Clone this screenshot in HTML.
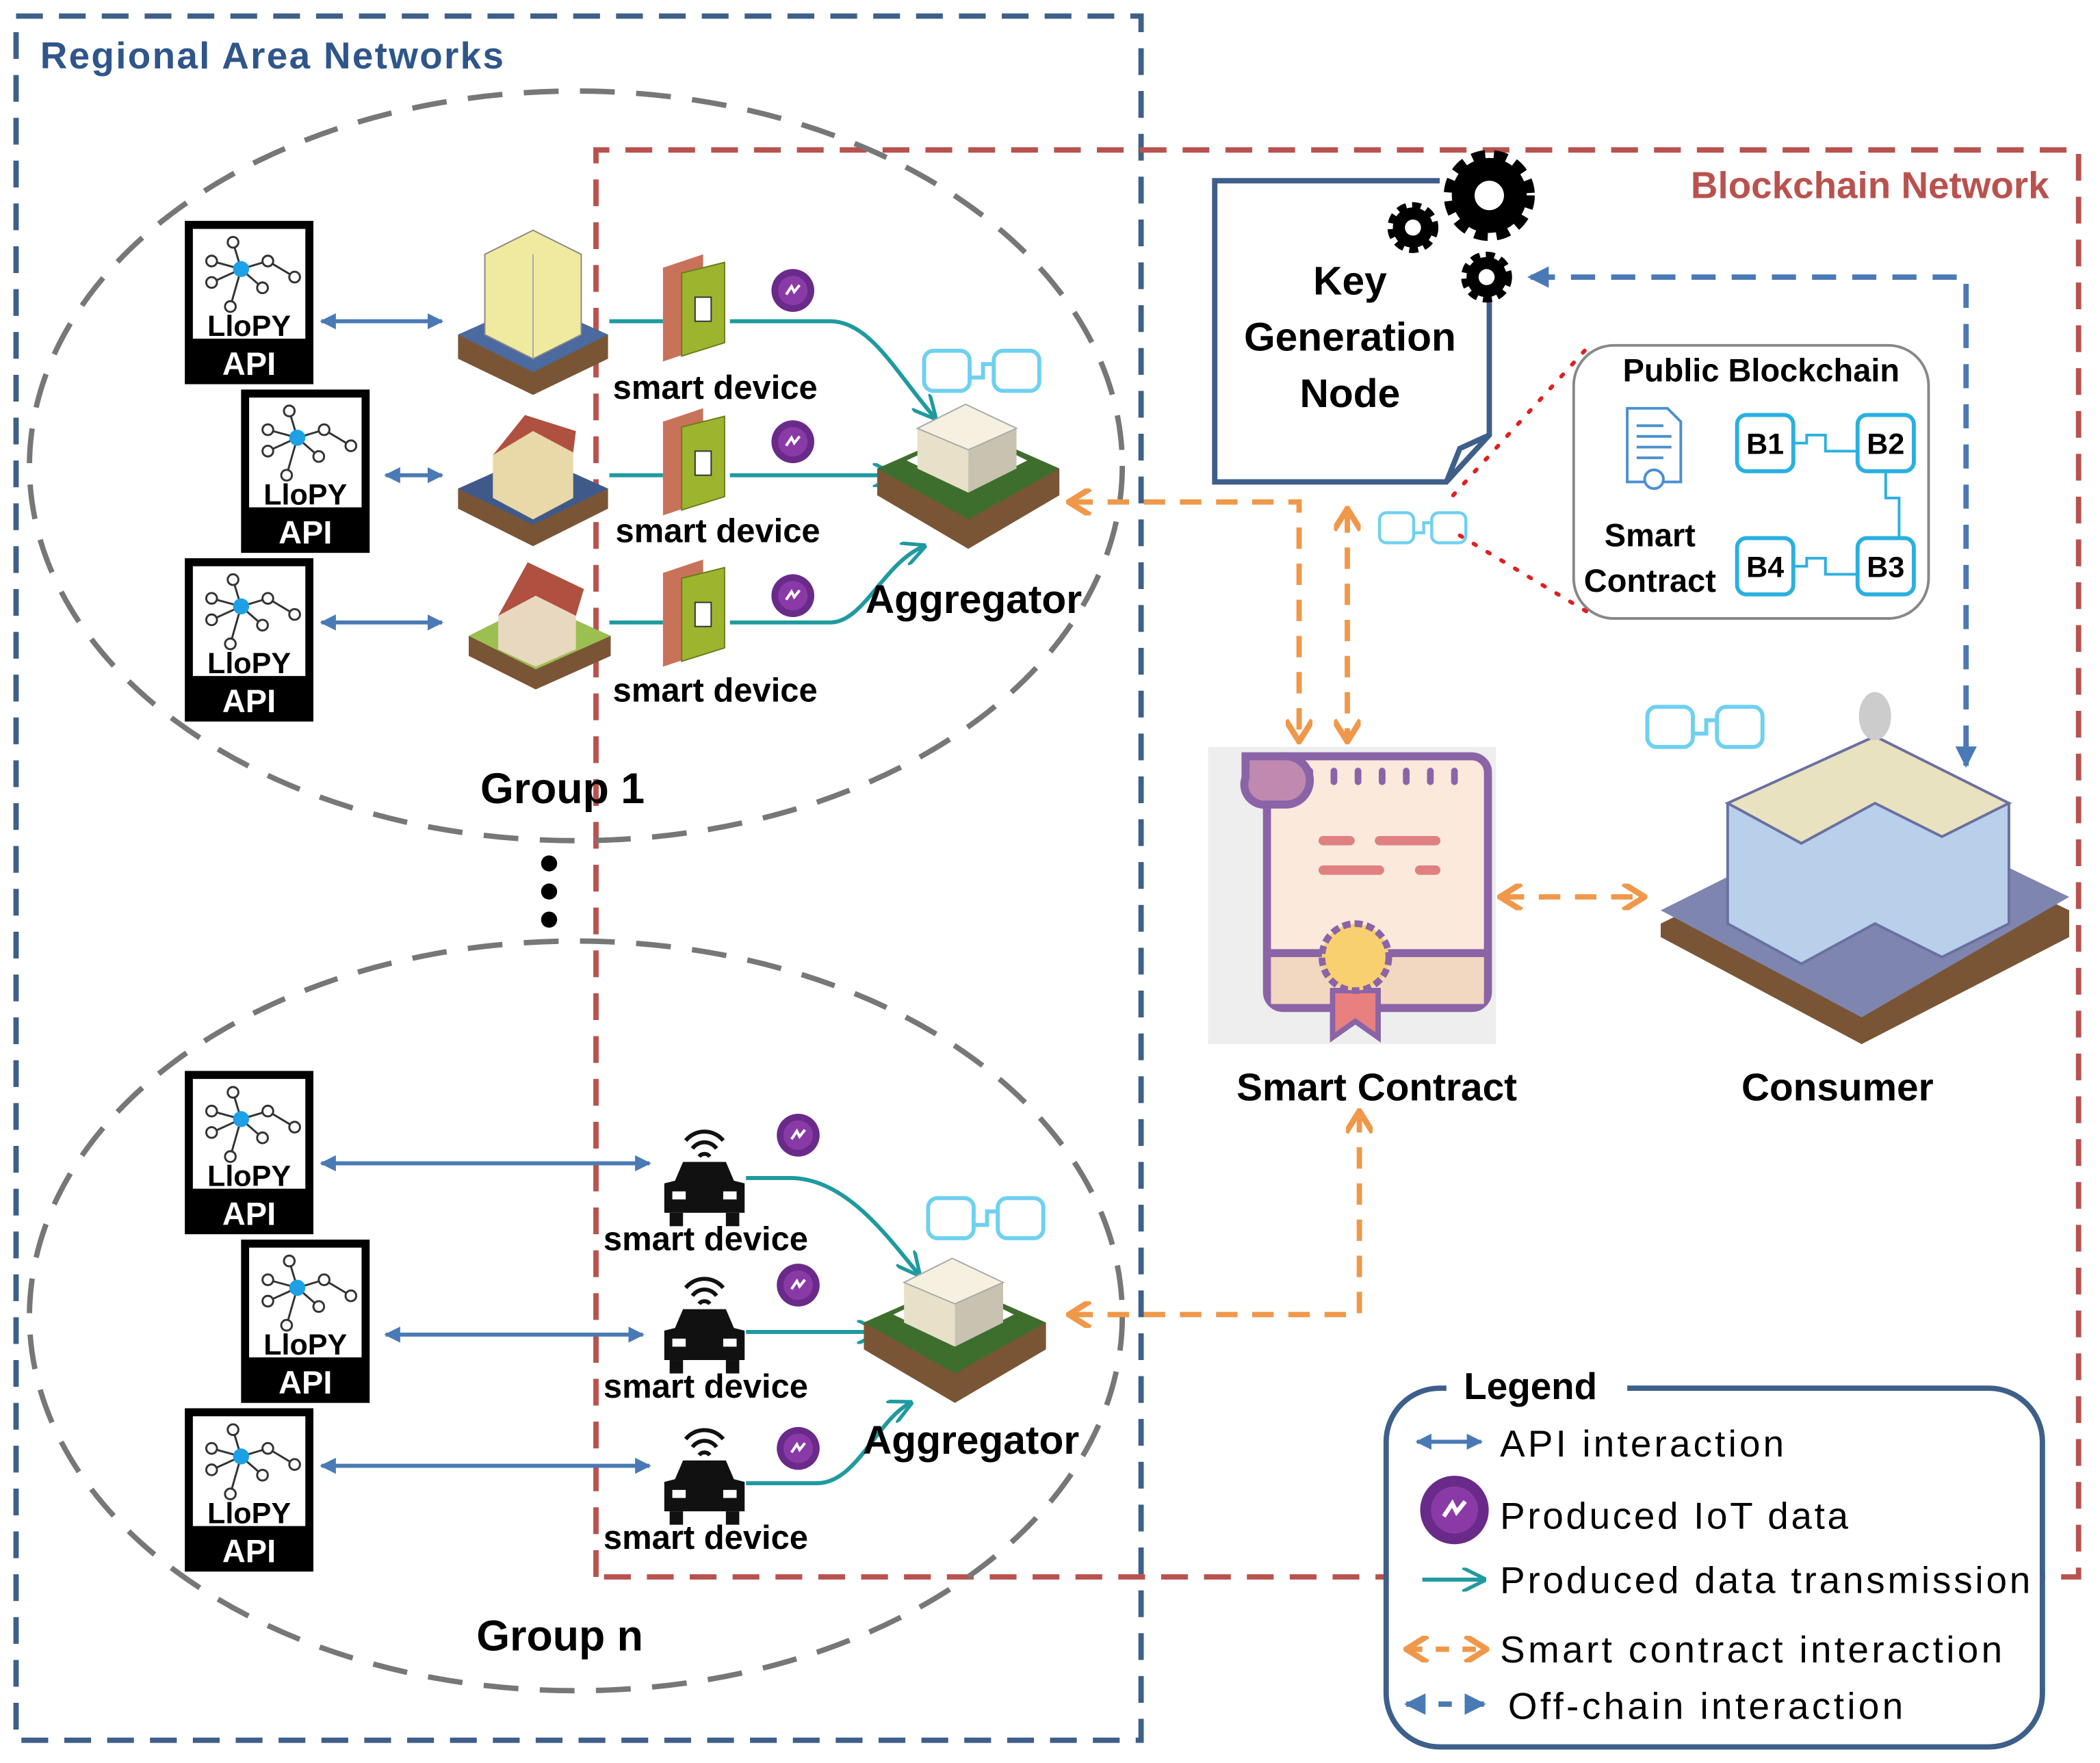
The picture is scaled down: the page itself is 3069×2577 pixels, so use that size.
<!DOCTYPE html>
<html><head><meta charset="utf-8"><style>
html,body{margin:0;padding:0;background:#fff;}
svg{display:block;}
text{font-family:"Liberation Sans",sans-serif;}
</style></head><body>
<svg width="3069" height="2577" viewBox="0 0 1568 1317" preserveAspectRatio="none" xmlns="http://www.w3.org/2000/svg">
<defs>
<marker id="ab" viewBox="0 0 10 10" refX="9" refY="5" markerWidth="4" markerHeight="4" orient="auto-start-reverse"><path d="M0,0 L10,5 L0,10 z" fill="#4a7ab5"/></marker>
<marker id="at" viewBox="0 0 10 10" refX="9" refY="5" markerWidth="6" markerHeight="6" orient="auto"><path d="M0,0 L10,5 L0,10" fill="none" stroke="#1f9a9f" stroke-width="1.5"/></marker>
<marker id="ao" viewBox="0 0 10 10" refX="8" refY="5" markerWidth="5" markerHeight="5" orient="auto-start-reverse"><path d="M1,0 L9,5 L1,10" fill="none" stroke="#f0984a" stroke-width="2.2"/></marker>
<marker id="abd" viewBox="0 0 10 10" refX="9" refY="5" markerWidth="4" markerHeight="4" orient="auto"><path d="M0,0 L10,5 L0,10 z" fill="#4a7ab5"/></marker>
<g id="api">
<rect x="0" y="0" width="96" height="122" fill="#000"/>
<rect x="6" y="6" width="84" height="82" fill="#fff"/>
<g stroke="#333" stroke-width="1.5" fill="#fff">
<line x1="42" y1="36" x2="20" y2="30"/><line x1="42" y1="36" x2="36" y2="16"/><line x1="42" y1="36" x2="62" y2="30"/><line x1="42" y1="36" x2="20" y2="46"/><line x1="42" y1="36" x2="58" y2="50"/><line x1="42" y1="36" x2="34" y2="64"/><line x1="62" y1="30" x2="82" y2="42"/>
<circle cx="20" cy="30" r="4"/><circle cx="36" cy="16" r="4"/><circle cx="62" cy="30" r="4"/><circle cx="82" cy="42" r="4"/><circle cx="20" cy="46" r="4"/><circle cx="58" cy="50" r="4"/><circle cx="34" cy="64" r="4"/>
</g>
<circle cx="42" cy="36" r="6" fill="#1ea0e6"/>
<text x="48" y="86" font-size="22" font-weight="bold" text-anchor="middle" fill="#000">LloPY</text>
<text x="48" y="115" font-size="24" font-weight="bold" text-anchor="middle" fill="#fff">API</text>
</g>
<g id="chain" fill="none" stroke="#6fd0f0" stroke-width="3">
<rect x="0" y="0" width="34" height="30" rx="7"/><rect x="52" y="0" width="34" height="30" rx="7"/><path d="M34,20 h10 v-10 h8"/>
</g>
<g id="meter">
<path d="M0,10 L30,0 L30,70 L0,80 z" fill="#c9725a"/>
<path d="M14,14 L46,6 L46,66 L14,76 z" fill="#9db52e" stroke="#6a7d1a"/>
<rect x="24" y="32" width="12" height="18" fill="#fff" stroke="#333"/>
</g>
<g id="iot"><circle r="16" fill="#6a2a8a"/><circle r="11" fill="#8a3aa6"/><path d="M-5,3 l4,-6 l2,4 l4,-5" stroke="#fff" stroke-width="2" fill="none"/></g>
<g id="car">
<path d="M-14,-20 a18,18 0 0 1 28,0 M-9,-14 a11,11 0 0 1 18,0 M-4,-8 a5,5 0 0 1 8,0" stroke="#111" stroke-width="3" fill="none"/>
<path d="M-22,10 L-16,-4 L16,-4 L22,10 L30,12 L30,34 L-30,34 L-30,12 z" fill="#111"/>
<rect x="-24" y="18" width="10" height="6" fill="#fff"/><rect x="14" y="18" width="10" height="6" fill="#fff"/>
<rect x="-26" y="34" width="10" height="10" fill="#111"/><rect x="16" y="34" width="10" height="10" fill="#111"/>
</g>
<g id="agg">
<path d="M0,50 L68,20 L136,50 L136,70 L68,110 L0,70 z" fill="#7a5535"/>
<path d="M0,50 L68,20 L136,50 L68,88 z" fill="#3e6e2e"/>
<path d="M22,44 L68,22 L112,44 L68,66 z" fill="#fff"/>
<path d="M30,20 L30,50 L68,68 L68,36 z" fill="#e8e0c8"/>
<path d="M68,36 L68,68 L104,50 L104,20 z" fill="#c8c2b0"/>
<path d="M30,20 L66,2 L104,20 L68,36 z" fill="#f5f0e0" stroke="#aaa"/>
</g>
</defs>

<rect x="12" y="12" width="840" height="1288" fill="none" stroke="#3e5f8a" stroke-width="4" stroke-dasharray="20 12"/>
<text x="30" y="51" font-size="28" fill="#2f568a" font-weight="bold" textLength="346">Regional Area Networks</text>

<path d="M445,1178 L445,112 L1552,112 L1552,1178 L445,1178" fill="none" stroke="#b9524e" stroke-width="4" stroke-dasharray="20 12"/>
<text x="1530" y="148" font-size="28" fill="#b9524e" font-weight="bold" text-anchor="end">Blockchain Network</text>

<ellipse cx="430" cy="348" rx="408" ry="280" fill="none" stroke="#777" stroke-width="4" stroke-dasharray="26 16"/>
<ellipse cx="430" cy="983" rx="408" ry="280" fill="none" stroke="#777" stroke-width="4" stroke-dasharray="26 16"/>
<text x="420" y="600" font-size="32" font-weight="bold" text-anchor="middle">Group 1</text>
<text x="418" y="1233" font-size="32" font-weight="bold" text-anchor="middle">Group n</text>
<circle cx="410" cy="645" r="6"/><circle cx="410" cy="666" r="6"/><circle cx="410" cy="687" r="6"/>

<use href="#api" x="138" y="165"/><use href="#api" x="180" y="291"/><use href="#api" x="138" y="417"/>
<use href="#api" x="138" y="800"/><use href="#api" x="180" y="926"/><use href="#api" x="138" y="1052"/>

<g stroke="#4a7ab5" stroke-width="3" marker-start="url(#ab)" marker-end="url(#ab)">
<line x1="240" y1="240" x2="330" y2="240"/><line x1="288" y1="355" x2="330" y2="355"/><line x1="240" y1="465" x2="330" y2="465"/>
<line x1="240" y1="869" x2="485" y2="869"/><line x1="288" y1="997" x2="480" y2="997"/><line x1="240" y1="1095" x2="485" y2="1095"/>
</g>

<g>
<path d="M342,250 L398,225 L454,250 L454,268 L398,295 L342,268 z" fill="#7a5535"/>
<path d="M342,250 L398,225 L454,250 L398,278 z" fill="#4a6aa0"/>
<path d="M362,190 L398,172 L434,190 L434,250 L398,268 L362,250 z" fill="#f0eaa0" stroke="#888"/>
<path d="M398,190 L398,268" stroke="#aaa"/>
<path d="M342,365 L398,340 L454,365 L454,380 L398,408 L342,380 z" fill="#7a5535"/>
<path d="M342,365 L398,340 L454,365 L398,392 z" fill="#3f5a8a"/>
<path d="M368,340 L398,322 L428,338 L428,372 L398,388 L368,372 z" fill="#e9d8a8"/>
<path d="M368,340 L392,310 L430,322 L428,338 L398,322 z" fill="#b05040"/>
<path d="M350,475 L400,450 L456,475 L456,490 L400,515 L350,490 z" fill="#7a5535"/>
<path d="M350,475 L400,450 L456,475 L400,500 z" fill="#9cc050"/>
<path d="M372,460 L400,445 L430,460 L430,485 L400,498 L372,485 z" fill="#e8d8c0"/>
<path d="M372,460 L394,420 L436,440 L430,460 L400,445 z" fill="#b05040"/>
</g>
<use href="#meter" x="495" y="190"/><use href="#meter" x="495" y="305"/><use href="#meter" x="495" y="418"/>
<use href="#iot" x="592" y="217"/><use href="#iot" x="592" y="330"/><use href="#iot" x="592" y="445"/>
<use href="#iot" x="596" y="848"/><use href="#iot" x="596" y="960"/><use href="#iot" x="596" y="1082"/>
<g font-size="25" font-weight="bold" text-anchor="middle">
<text x="534" y="298">smart device</text><text x="536" y="405">smart device</text><text x="534" y="524">smart device</text>
<text x="527" y="934">smart device</text><text x="527" y="1044">smart device</text><text x="527" y="1157">smart device</text>
</g>

<g stroke="#1f9a9f" stroke-width="3" fill="none" marker-end="url(#at)">
<path d="M455,240 L495,240 M545,240 L620,240 C650,240 670,280 698,312"/>
<path d="M455,355 L495,355 M545,355 L668,355"/>
<path d="M455,465 L495,465 M545,465 L620,465 C645,465 660,420 690,408"/>
<path d="M557,880 L590,880 C630,880 660,920 686,952"/>
<path d="M557,995 L656,995"/>
<path d="M557,1108 L610,1108 C640,1108 655,1060 680,1048"/>
</g>

<use href="#agg" x="655" y="300"/><use href="#agg" x="645" y="938"/>
<use href="#chain" x="690" y="262"/><use href="#chain" x="693" y="895"/>
<text x="727" y="458" font-size="30" font-weight="bold" text-anchor="middle">Aggregator</text>
<text x="725" y="1086" font-size="30" font-weight="bold" text-anchor="middle">Aggregator</text>

<use href="#car" x="526" y="872"/><use href="#car" x="526" y="982"/><use href="#car" x="526" y="1095"/>

<!-- Key generation node -->
<path d="M907,135 L1112,135 L1112,325 L1080,360 L907,360 Z" fill="#fff"/>
<path d="M1075,135 L907,135 L907,360 L1080,360 L1112,325 L1112,220" fill="none" stroke="#3e5f8a" stroke-width="4"/>
<path d="M1080,360 L1090,335 L1112,325" fill="none" stroke="#3e5f8a" stroke-width="4"/>
<text x="1008" y="220" font-size="30" font-weight="bold" text-anchor="middle">Key</text>
<text x="1008" y="262" font-size="30" font-weight="bold" text-anchor="middle">Generation</text>
<text x="1008" y="304" font-size="30" font-weight="bold" text-anchor="middle">Node</text>
<g fill="#000">
<circle cx="1112" cy="146" r="28" stroke="#000" stroke-width="12" stroke-dasharray="9 6"/><circle cx="1112" cy="146" r="26"/><circle cx="1112" cy="146" r="11" fill="#fff"/>
<circle cx="1055" cy="170" r="15" stroke="#000" stroke-width="8" stroke-dasharray="6 4"/><circle cx="1055" cy="170" r="6" fill="#fff"/>
<circle cx="1110" cy="207" r="15" stroke="#000" stroke-width="8" stroke-dasharray="6 4"/><circle cx="1110" cy="207" r="6" fill="#fff"/>
</g>

<path d="M1468,560 L1468,207 L1142,207" fill="none" stroke="#4a7ab5" stroke-width="4" stroke-dasharray="18 12" marker-end="url(#abd)"/>
<path d="M1468,555 L1468,572" stroke="#4a7ab5" stroke-width="4" marker-end="url(#abd)"/>

<rect x="1175" y="258" width="265" height="204" rx="30" fill="#fff" stroke="#888" stroke-width="2"/>
<text x="1315" y="285" font-size="24" font-weight="bold" text-anchor="middle">Public Blockchain</text>
<text x="1232" y="408" font-size="24" font-weight="bold" text-anchor="middle">Smart</text>
<text x="1232" y="442" font-size="24" font-weight="bold" text-anchor="middle">Contract</text>
<path d="M1215,305 h30 l10,10 v45 h-40 z" fill="#fff" stroke="#4a90d0" stroke-width="2"/>
<path d="M1222,318 h20 M1222,326 h26 M1222,334 h26 M1222,342 h20" stroke="#4a90d0" stroke-width="2"/>
<circle cx="1235" cy="358" r="7" fill="#fff" stroke="#4a90d0" stroke-width="2"/>
<g fill="#fff" stroke="#2ab0e0" stroke-width="3">
<rect x="1297" y="310" width="42" height="42" rx="7"/><rect x="1387" y="310" width="42" height="42" rx="7"/>
<rect x="1297" y="402" width="42" height="42" rx="7"/><rect x="1387" y="402" width="42" height="42" rx="7"/>
<path d="M1339,331 h10 v-6 h14 v12 h24 M1339,423 h10 v-6 h14 v12 h24 M1408,352 v20 h10 v30" fill="none" stroke-width="2"/>
</g>
<g font-size="22" font-weight="bold" text-anchor="middle">
<text x="1318" y="339">B1</text><text x="1408" y="339">B2</text><text x="1318" y="431">B4</text><text x="1408" y="431">B3</text>
</g>
<path d="M1085,370 L1185,260 M1090,400 L1190,460" stroke="#e02020" stroke-width="3" stroke-dasharray="2 10" stroke-linecap="round"/>
<use href="#chain" x="1030" y="383" transform="translate(1030 383) scale(0.75) translate(-1030 -383)"/>

<g stroke="#f0984a" stroke-width="4" fill="none" stroke-dasharray="16 11">
<path d="M800,375 L970,375 L970,552" marker-start="url(#ao)" marker-end="url(#ao)"/>
<path d="M1006,382 L1006,552" marker-start="url(#ao)" marker-end="url(#ao)"/>
<path d="M1122,670 L1226,670" marker-start="url(#ao)" marker-end="url(#ao)"/>
<path d="M800,982 L1015,982 L1015,832" marker-start="url(#ao)" marker-end="url(#ao)"/>
</g>

<rect x="902" y="558" width="215" height="222" fill="#eee"/>
<rect x="946" y="565" width="165" height="188" rx="12" fill="#fbe9dc" stroke="#8a64a6" stroke-width="6"/>
<path d="M946,712 h165" stroke="#8a64a6" stroke-width="6"/>
<rect x="949" y="715" width="159" height="35" fill="#f2d8c0"/>
<path d="M930,565 h30 a18,18 0 0 1 0,36 h-14 a15,15 0 0 1 -16,-20 z" fill="#c08ab0" stroke="#8a64a6" stroke-width="6"/>
<g stroke="#8a64a6" stroke-width="5" stroke-linecap="round"><path d="M978,576 v8 M996,576 v8 M1014,576 v8 M1032,576 v8 M1050,576 v8 M1068,576 v8 M1086,576 v8"/></g>
<g stroke="#e08080" stroke-width="7" stroke-linecap="round"><path d="M988,628 h20 M1030,628 h42 M988,650 h42 M1060,650 h12"/></g>
<path d="M995,740 l0,35 l17,-12 l17,12 l0,-35 z" fill="#e88080" stroke="#8a64a6" stroke-width="4"/>
<circle cx="1012" cy="715" r="25" fill="#f8d070" stroke="#8a64a6" stroke-width="5" stroke-dasharray="6 3"/>
<text x="1028" y="822" font-size="29" font-weight="bold" text-anchor="middle">Smart Contract</text>

<use href="#chain" x="1230" y="528"/>
<path d="M1240,690 L1400,610 L1545,680 L1545,700 L1390,780 L1240,700 z" fill="#7a5535"/>
<path d="M1240,680 L1400,600 L1545,670 L1390,760 z" fill="#7e86b0"/>
<path d="M1290,600 L1290,690 L1345,720 L1400,690 L1450,715 L1500,690 L1500,600 L1400,560 z" fill="#b8d0ea" stroke="#6a70a0" stroke-width="2"/>
<path d="M1290,600 L1400,550 L1500,600 L1450,625 L1400,600 L1345,630 z" fill="#e8e2c0" stroke="#6a70a0" stroke-width="2"/>
<ellipse cx="1400" cy="535" rx="12" ry="18" fill="#ccc"/>
<text x="1372" y="822" font-size="29" font-weight="bold" text-anchor="middle">Consumer</text>

<rect x="1035" y="1037" width="490" height="268" rx="40" fill="#fff" stroke="#3e5f8a" stroke-width="4"/>
<rect x="1080" y="1020" width="135" height="40" fill="#fff"/>
<text x="1093" y="1045" font-size="28" font-weight="bold">Legend</text>
<line x1="1058" y1="1077" x2="1106" y2="1077" stroke="#4a7ab5" stroke-width="3" marker-start="url(#ab)" marker-end="url(#ab)"/>
<text x="1120" y="1088" font-size="28" textLength="212">API interaction</text>
<g transform="translate(1086 1128) scale(1.6)"><use href="#iot"/></g>
<text x="1120" y="1142" font-size="28" textLength="260">Produced IoT data</text>
<line x1="1062" y1="1180" x2="1108" y2="1180" stroke="#1f9a9f" stroke-width="3" marker-end="url(#at)"/>
<text x="1120" y="1190" font-size="28" textLength="396">Produced data transmission</text>
<path d="M1052,1232 L1108,1232" stroke="#f0984a" stroke-width="4" stroke-dasharray="10 10" marker-start="url(#ao)" marker-end="url(#ao)"/>
<text x="1120" y="1242" font-size="28" textLength="375">Smart contract interaction</text>
<path d="M1050,1273 L1108,1273" stroke="#4a7ab5" stroke-width="4" stroke-dasharray="10 14" marker-start="url(#ab)" marker-end="url(#ab)"/>
<text x="1126" y="1284" font-size="28" textLength="295">Off-chain interaction</text>
</svg>
</body></html>
